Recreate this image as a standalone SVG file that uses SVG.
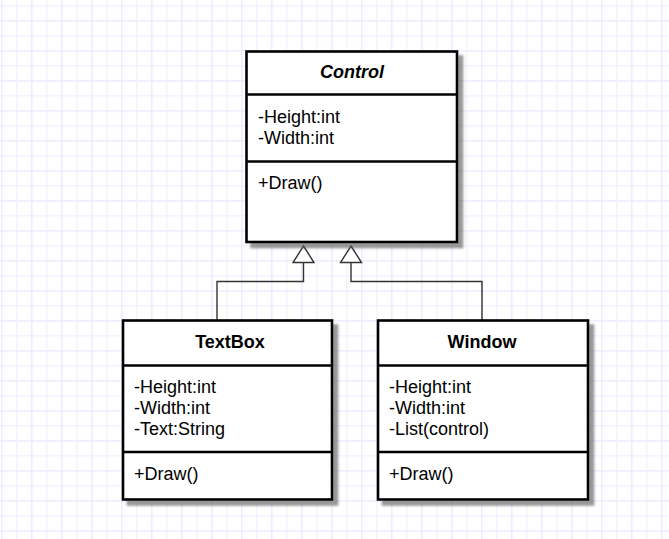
<svg xmlns="http://www.w3.org/2000/svg" width="669" height="539" viewBox="0 0 669 539">
  <defs>
    <pattern id="grid" patternUnits="userSpaceOnUse" x="1.2" y="20.2" width="30" height="30">
      <rect x="0" y="0" width="30" height="1.3" fill="#e8e8ff"/>
      <rect x="0" y="15" width="30" height="1.3" fill="#f0f0ff"/>
      <rect x="0" y="0" width="1.3" height="30" fill="#e8e8ff"/>
      <rect x="15" y="0" width="1.3" height="30" fill="#f0f0ff"/>
    </pattern>
    <filter id="shadow" x="-10%" y="-10%" width="130%" height="130%">
      <feDropShadow dx="5" dy="5" stdDeviation="0.9" flood-color="#555555" flood-opacity="0.6"/>
    </filter>
  </defs>
  <style>
    .box { fill: #ffffff; stroke: #000000; stroke-width: 2.6; }
    .div { stroke: #000000; stroke-width: 2.6; }
    .t { font-family: "Liberation Sans", Arial, sans-serif; font-size: 18px; fill: #000000; }
    .title { font-weight: bold; text-anchor: middle; }
    .edge { fill: none; stroke: #333333; stroke-width: 1.4; }
    .head { fill: #ffffff; stroke: #333333; stroke-width: 1.4; }
  </style>
  <rect x="0" y="0" width="669" height="539" fill="#ffffff"/>
  <rect x="0" y="0" width="669" height="539" fill="url(#grid)"/>

  <g id="connectors">
    <path class="edge" d="M217 320 L217 281.5 L303.5 281.5 L303.5 262.5"/>
    <path class="edge" d="M482 320 L482 281.5 L351 281.5 L351 262.5"/>
    <path class="head" d="M303.5 246 L314 262.5 L293 262.5 Z"/>
    <path class="head" d="M351 246 L361.5 262.5 L340.5 262.5 Z"/>
  </g>

  <g id="Control">
    <g filter="url(#shadow)">
      <rect class="box" x="246.5" y="51.5" width="210.5" height="190.5"/>
      <line class="div" x1="246.5" y1="94.5" x2="457" y2="94.5"/>
      <line class="div" x1="246.5" y1="161.5" x2="457" y2="161.5"/>
    </g>
    <text class="t title" x="352" y="78" font-style="italic">Control</text>
    <text class="t" x="258" y="123">-Height:int</text>
    <text class="t" x="258" y="144">-Width:int</text>
    <text class="t" x="258" y="189">+Draw()</text>
  </g>

  <g id="TextBox">
    <g filter="url(#shadow)">
      <rect class="box" x="123" y="320.5" width="209" height="179"/>
      <line class="div" x1="123" y1="365.5" x2="332" y2="365.5"/>
      <line class="div" x1="123" y1="452" x2="332" y2="452"/>
    </g>
    <text class="t title" x="230" y="348">TextBox</text>
    <text class="t" x="134" y="392.5">-Height:int</text>
    <text class="t" x="134" y="413.5">-Width:int</text>
    <text class="t" x="134" y="435">-Text:String</text>
    <text class="t" x="134" y="480">+Draw()</text>
  </g>

  <g id="Window">
    <g filter="url(#shadow)">
      <rect class="box" x="378" y="320.5" width="210" height="179"/>
      <line class="div" x1="378" y1="365.5" x2="588" y2="365.5"/>
      <line class="div" x1="378" y1="452" x2="588" y2="452"/>
    </g>
    <text class="t title" x="482" y="348">Window</text>
    <text class="t" x="389" y="392.5">-Height:int</text>
    <text class="t" x="389" y="413.5">-Width:int</text>
    <text class="t" x="389" y="435">-List(control)</text>
    <text class="t" x="389" y="480">+Draw()</text>
  </g>
</svg>
